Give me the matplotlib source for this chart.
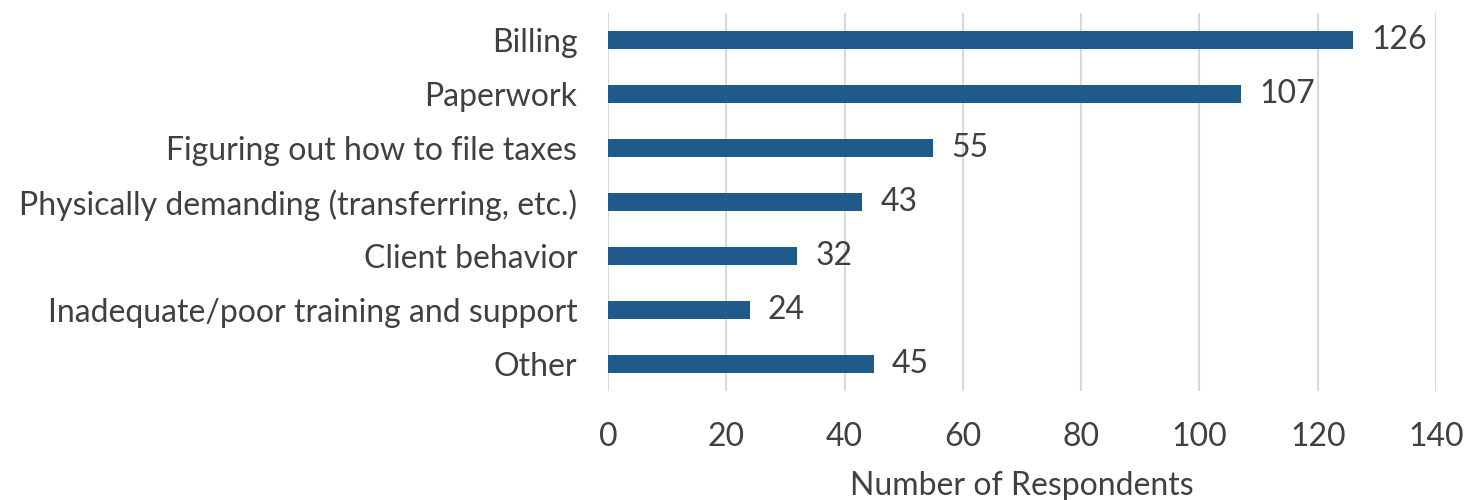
import matplotlib.pyplot as plt

# Survey responses: biggest challenges reported
categories = [
    "Billing",
    "Paperwork",
    "Figuring out how to file taxes",
    "Physically demanding (transferring, etc.)",
    "Client behavior",
    "Inadequate/poor training and support",
    "Other",
]
counts = [126, 107, 55, 43, 32, 24, 45]
x_ticks = [0, 20, 40, 60, 80, 100, 120, 140]

bar_color = "#1F5A8A"
text_color = "#404040"
grid_color = "#D9D9D9"

plt.rcParams["font.family"] = ["Lato", "DejaVu Sans"]

fig = plt.figure(figsize=(14.79, 5), dpi=100)
ax = fig.add_axes([0.411, 0.218, 0.56, 0.756])

y = list(range(len(categories)))
ax.barh(y, counts, height=0.34, color=bar_color, zorder=3)

for yi, val in zip(y, counts):
    ax.annotate(str(val), (val, yi), xytext=(13, 0), textcoords="offset points",
                va="center", ha="left", fontsize=23, color=text_color)

ax.set_xlim(0, 140)
ax.set_ylim(len(categories) - 0.5, -0.5)
ax.set_xticks(x_ticks)
ax.set_yticks(y)
ax.set_yticklabels(categories)

ax.grid(axis="x", color=grid_color, linewidth=1.5, zorder=0)
for side in ax.spines.values():
    side.set_visible(False)
ax.tick_params(axis="both", length=0, labelsize=23, labelcolor=text_color)
ax.tick_params(axis="x", pad=22)
ax.tick_params(axis="y", pad=22)

ax.set_xlabel("Number of Respondents", fontsize=23, color=text_color, labelpad=14)

fig.savefig("out.png", dpi=100)
